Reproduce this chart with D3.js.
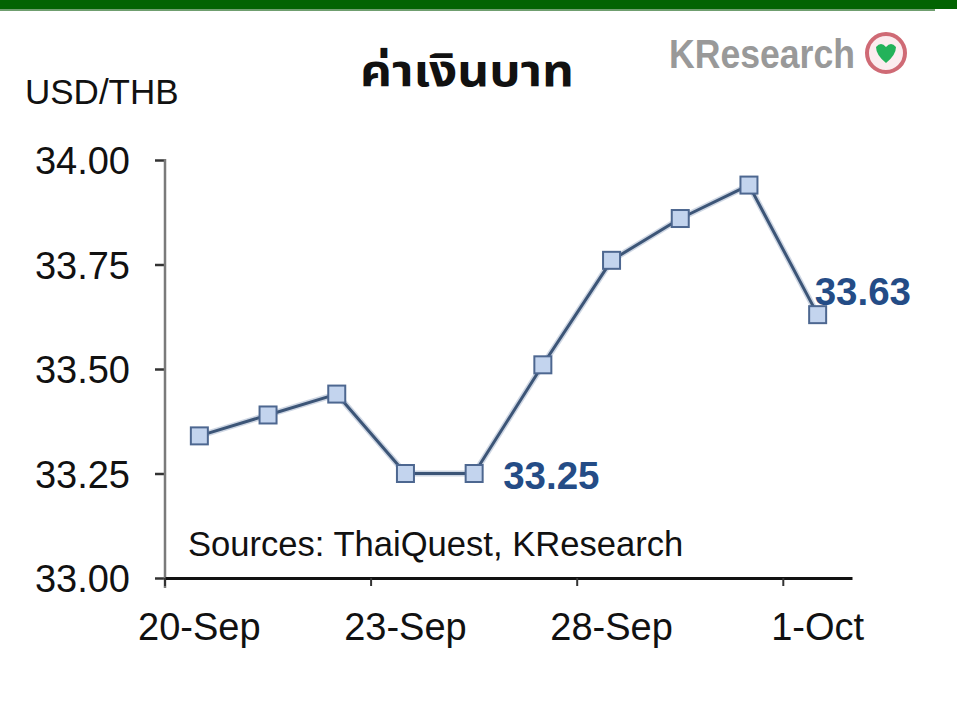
<!DOCTYPE html>
<html>
<head>
<meta charset="utf-8">
<script src="https://cdn.jsdelivr.net/npm/d3@7"></script>
<style>
  html, body { margin: 0; padding: 0; background: #ffffff; }
  svg { display: block; }
</style>
</head>
<body>
<script>
// ---- data ----
const categories = ["20-Sep","21-Sep","22-Sep","23-Sep","24-Sep","27-Sep","28-Sep","29-Sep","30-Sep","1-Oct"];
const usdThb = [33.34, 33.39, 33.44, 33.25, 33.25, 33.51, 33.76, 33.86, 33.94, 33.63];
const yTicks = [33.00, 33.25, 33.50, 33.75, 34.00];
const xLabelCats = ["20-Sep","23-Sep","28-Sep","1-Oct"];
const labelled = [{i: 4, text: "33.25"}, {i: 9, text: "33.63"}];
const title = "ค่าเงินบาท";
const unit = "USD/THB";
const source = "Sources: ThaiQuest, KResearch";

const W = 960, H = 726;
const svg = d3.select("body").append("svg").attr("width", W).attr("height", H);
const font = "'Liberation Sans', Arial, sans-serif";

// top green band
svg.append("rect").attr("x", 0).attr("y", 0).attr("width", 957).attr("height", 9).attr("fill", "#026302");
svg.append("rect").attr("x", 0).attr("y", 9).attr("width", 935).attr("height", 2).attr("fill", "#6f9e6f");

const x = d3.scaleBand().domain(categories).range([165, 852]).padding(0);
const y = d3.scaleLinear().domain([33, 34]).range([578, 160]);

// y axis
const yAxis = svg.append("g").attr("transform", "translate(165,0)")
  .call(d3.axisLeft(y).tickValues(yTicks).tickFormat(d3.format(".2f")).tickSize(10).tickPadding(25).tickSizeOuter(0));
yAxis.select(".domain").remove();
yAxis.selectAll(".tick line").attr("stroke", "#333").attr("stroke-width", 2.5);
yAxis.selectAll(".tick text").attr("font-family", font).attr("font-size", 38).attr("fill", "#111").attr("dy", "0.36em");
svg.append("line").attr("x1", 165).attr("x2", 165).attr("y1", y(34) - 1).attr("y2", y(33) + 10)
  .attr("stroke", "#7a7a7a").attr("stroke-width", 2.5);

// x axis
const xAxis = svg.append("g").attr("transform", `translate(0,${y(33)})`)
  .call(d3.axisBottom(x).tickValues(xLabelCats).tickSize(8).tickPadding(27).tickSizeOuter(0));
xAxis.select(".domain").attr("stroke", "#111").attr("stroke-width", 3);
xAxis.selectAll(".tick line").attr("stroke", "#333").attr("stroke-width", 2)
  .attr("transform", `translate(${-x.bandwidth() / 2},0)`);
xAxis.selectAll(".tick text").attr("font-family", font).attr("font-size", 38).attr("fill", "#111").attr("dy", "0.71em");

// line
const pts = categories.map((c, i) => ({c, v: usdThb[i]}));
const line = d3.line().x(d => x(d.c) + x.bandwidth() / 2).y(d => y(d.v));
svg.append("path").datum(pts).attr("d", line).attr("fill", "none")
  .attr("stroke", "#aebbd0").attr("stroke-width", 6).attr("stroke-linejoin", "round").attr("opacity", 0.6);
svg.append("path").datum(pts).attr("d", line).attr("fill", "none")
  .attr("stroke", "#3c5577").attr("stroke-width", 3).attr("stroke-linejoin", "round");

// markers
const ms = 17;
svg.selectAll("rect.m").data(pts).enter().append("rect").attr("class", "m")
  .attr("x", d => x(d.c) + x.bandwidth() / 2 - ms / 2)
  .attr("y", d => y(d.v) - ms / 2)
  .attr("width", ms).attr("height", ms)
  .attr("fill", "#c3d4ee").attr("stroke", "#4d6790").attr("stroke-width", 2);

// data labels
svg.selectAll("text.dl").data(labelled).enter().append("text").attr("class", "dl")
  .attr("x", d => x(categories[d.i]) + x.bandwidth() / 2 + (d.i === 4 ? 29 : -3))
  .attr("y", d => y(usdThb[d.i]) + (d.i === 4 ? 15 : -10))
  .attr("font-family", font).attr("font-weight", "bold").attr("font-size", 38.5)
  .attr("fill", "#244c86").text(d => d.text);

// title & unit
svg.append("text").attr("x", 467).attr("y", 86).attr("text-anchor", "middle")
  .attr("font-family", "'Noto Sans Thai', 'Noto Sans', 'DejaVu Sans', sans-serif")
  .attr("font-weight", "bold").attr("font-size", 44).attr("fill", "#111")
  .attr("textLength", 214).attr("lengthAdjust", "spacingAndGlyphs").text(title);
svg.append("text").attr("x", 25).attr("y", 104)
  .attr("font-family", font).attr("font-size", 35).attr("fill", "#111").text(unit);

// source
svg.append("text").attr("x", 188).attr("y", 556)
  .attr("font-family", font).attr("font-size", 34.6).attr("fill", "#111").text(source);

// logo
const logo = svg.append("g");
logo.append("text").attr("x", 669).attr("y", 68)
  .attr("font-family", "'Liberation Sans Narrow', 'Liberation Sans', Arial, sans-serif")
  .attr("font-weight", "bold").attr("font-size", 40).attr("fill", "#999999")
  .attr("textLength", 186).attr("lengthAdjust", "spacingAndGlyphs")
  .text("KResearch");
logo.append("circle").attr("cx", 886).attr("cy", 53).attr("r", 19)
  .attr("fill", "#fbecef").attr("stroke", "#cf6a75").attr("stroke-width", 4);
logo.append("path").attr("d", "M876,47 q5,-6 10,0 q5,-6 10,0 q0,8 -10,16 q-10,-8 -10,-16z")
  .attr("fill", "#23b25a");
</script>
</body>
</html>
